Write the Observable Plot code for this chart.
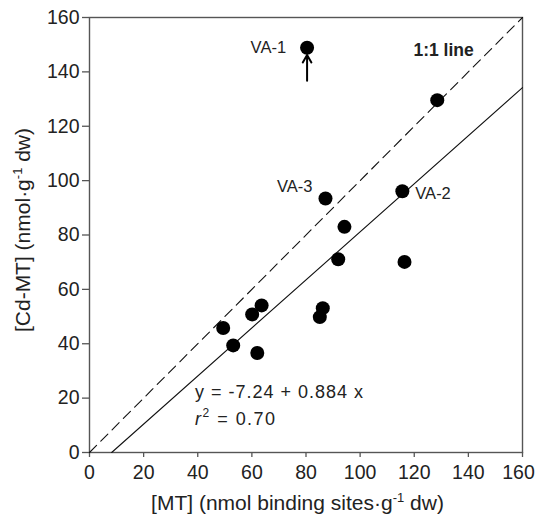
<!DOCTYPE html>
<html><head><meta charset="utf-8">
<script src="https://cdn.jsdelivr.net/npm/d3@7"></script>
<script src="https://cdn.jsdelivr.net/npm/@observablehq/plot@0.6"></script>
<style>
body{margin:0;background:#fff}
svg{font-family:"Liberation Sans",Arial,sans-serif}
</style>
</head><body><div id="chart"></div>
<script>
// Data
const mtValues   = [49.4, 53.1, 60.1, 63.6, 62.0, 91.9, 116.4, 86.2, 85.1, 80.4, 128.5, 115.6, 87.2, 94.2];
const cdmtValues = [45.8, 39.4, 50.8, 54.1, 36.6, 71.1,  70.1, 53.1, 49.8, 148.9, 129.6, 96.1, 93.4, 83.0];
const pointNames = ["", "", "", "", "", "", "", "", "", "VA-1", "", "VA-2", "VA-3", ""];
const xTicks = [0, 20, 40, 60, 80, 100, 120, 140, 160];
const yTicks = [0, 20, 40, 60, 80, 100, 120, 140, 160];
const fitIntercept = -7.24;
const fitSlope = 0.884;
const equationText = "y = -7.24 + 0.884 x";
const r2Value = "0.70";
const oneToOneLabel = "1:1 line";

const points = mtValues.map((x, i) => ({x, y: cdmtValues[i], name: pointNames[i]}));
const fitStart = -fitIntercept / fitSlope;
const fitLine = [fitStart, 160].map(x => ({x, y: fitIntercept + fitSlope * x}));
const oneLine = [0, 160].map(v => ({x: v, y: v}));
const va1 = points.find(d => d.name === "VA-1");
const va2 = points.find(d => d.name === "VA-2");
const va3 = points.find(d => d.name === "VA-3");

const textColor = "#222";
const axisColor = "#555";
const tickFont = 19.5;

const plot = Plot.plot({
  width: 535,
  height: 516,
  marginLeft: 89,
  marginRight: 13,
  marginTop: 17,
  marginBottom: 64,
  style: {fontFamily: "Liberation Sans, Arial, sans-serif", fontSize: tickFont + "px", color: textColor, background: "#fff"},
  x: {domain: [0, 160], ticks: xTicks},
  y: {domain: [0, 160], ticks: yTicks},
  marks: [
    Plot.frame({stroke: axisColor, strokeWidth: 1.4}),
    Plot.axisX({ticks: xTicks, tickSize: 5, tickPadding: 8, fontSize: tickFont, label: null, stroke: axisColor, strokeWidth: 1.3, color: textColor}),
    Plot.axisY({ticks: yTicks, tickSize: 7, tickPadding: 3, fontSize: tickFont, label: null, stroke: axisColor, strokeWidth: 1.3, color: textColor}),
    Plot.line(oneLine, {x: "x", y: "y", stroke: "#111", strokeWidth: 1.1, strokeDasharray: "10,6"}),
    Plot.line(fitLine, {x: "x", y: "y", stroke: "#111", strokeWidth: 1.1}),
    Plot.dot(points, {x: "x", y: "y", r: 7, fill: "#000", stroke: "none"}),
    Plot.text([va1], {x: "x", y: "y", text: "name", dx: -21, textAnchor: "end", fontSize: 16.5, fill: textColor}),
    Plot.text([va3], {x: "x", y: "y", text: "name", dx: -13, dy: -12, textAnchor: "end", fontSize: 16.5, fill: textColor}),
    Plot.text([va2], {x: "x", y: "y", text: "name", dx: 13, dy: 2, textAnchor: "start", fontSize: 16.5, fill: textColor}),
    Plot.text([{x: 119.7, y: 148}], {x: "x", y: "y", text: () => oneToOneLabel, textAnchor: "start", fontSize: 17.5, fontWeight: "bold", fill: textColor}),
    Plot.arrow([{x1: va1.x, y1: 136.7, x2: va1.x, y2: 146.2}], {x1: "x1", y1: "y1", x2: "x2", y2: "y2", stroke: "#000", strokeWidth: 2, headLength: 8, bend: 0})
  ]
});

const svg = d3.select(plot);
const sx = plot.scale("x"), sy = plot.scale("y");

// enforce tick label font size and keep the last x label inside the picture
svg.selectAll("g[aria-label='x-axis tick label'], g[aria-label='y-axis tick label']").attr("font-size", tickFont);
const xLabels = svg.selectAll("g[aria-label='x-axis tick label'] text").nodes();
if (xLabels.length) d3.select(xLabels[xLabels.length - 1]).attr("dx", -4);

// Equation text
const eq = svg.append("g").attr("fill", textColor).attr("font-size", 18).attr("text-anchor", "start");
eq.append("text").attr("x", sx.apply(39.2)).attr("y", sy.apply(19.8))
  .attr("textLength", 168).attr("lengthAdjust", "spacing").text(equationText);
const r2 = eq.append("text").attr("x", sx.apply(39.2)).attr("y", sy.apply(9.9))
  .attr("textLength", 80).attr("lengthAdjust", "spacing");
r2.append("tspan").attr("font-style", "italic").text("r");
r2.append("tspan").attr("font-size", 12).attr("dy", -8).text("2");
r2.append("tspan").attr("dy", 8).text(" = " + r2Value);

// X axis title
const xt = svg.append("text").attr("x", 297.5).attr("y", 510).attr("text-anchor", "middle").attr("font-size", 21).attr("fill", textColor);
xt.append("tspan").text("[MT] (nmol binding sites·g");
xt.append("tspan").attr("font-size", 13).attr("dy", -8).text("-1");
xt.append("tspan").attr("dy", 8).text(" dw)");

// Y axis title
const yt = svg.append("text").attr("transform", "translate(23,230) rotate(-90)").attr("dy", "0.35em").attr("text-anchor", "middle").attr("font-size", 21).attr("fill", textColor);
yt.append("tspan").text("[Cd-MT] (nmol·g");
yt.append("tspan").attr("font-size", 13).attr("dy", -8).text("-1");
yt.append("tspan").attr("dy", 8).text(" dw)");

document.getElementById("chart").appendChild(plot);
</script>
</body></html>
